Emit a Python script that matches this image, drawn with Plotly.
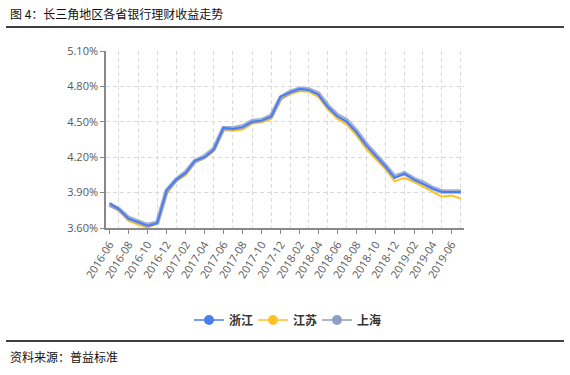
import plotly.graph_objects as go

months = ["2016-06", "2016-07", "2016-08", "2016-09", "2016-10", "2016-11", "2016-12",
          "2017-01", "2017-02", "2017-03", "2017-04", "2017-05", "2017-06", "2017-07",
          "2017-08", "2017-09", "2017-10", "2017-11", "2017-12",
          "2018-01", "2018-02", "2018-03", "2018-04", "2018-05", "2018-06", "2018-07",
          "2018-08", "2018-09", "2018-10", "2018-11", "2018-12",
          "2019-01", "2019-02", "2019-03", "2019-04", "2019-05", "2019-06", "2019-07"]

zhejiang = [3.81, 3.76, 3.68, 3.65, 3.62, 3.64, 3.92, 4.01, 4.07, 4.17, 4.20, 4.265, 4.45,
            4.44, 4.455, 4.50, 4.51, 4.545, 4.715, 4.75, 4.78, 4.77, 4.73, 4.625, 4.545,
            4.50, 4.41, 4.30, 4.215, 4.125, 4.025, 4.06, 4.01, 3.975, 3.935, 3.905, 3.905, 3.905]
jiangsu = [3.79, 3.75, 3.66, 3.63, 3.60, 3.64, 3.89, 4.00, 4.05, 4.155, 4.19, 4.25, 4.43,
           4.425, 4.435, 4.485, 4.495, 4.525, 4.69, 4.735, 4.76, 4.755, 4.71, 4.605, 4.525,
           4.475, 4.385, 4.27, 4.19, 4.10, 3.995, 4.025, 3.99, 3.95, 3.905, 3.865, 3.875, 3.85]
shanghai = [3.80, 3.76, 3.685, 3.655, 3.625, 3.645, 3.915, 4.01, 4.075, 4.165, 4.205, 4.27, 4.445,
            4.445, 4.46, 4.505, 4.515, 4.55, 4.705, 4.755, 4.78, 4.775, 4.74, 4.635, 4.555,
            4.51, 4.42, 4.31, 4.225, 4.13, 4.035, 4.065, 4.015, 3.985, 3.94, 3.91, 3.91, 3.91]

series_names = ["浙江", "江苏", "上海"]
title_text = "图 4：长三角地区各省银行理财收益走势"
source_text = "资料来源：普益标准"

dates = [m + "-01" for m in months]
major_ticks = dates[0::2]
minor_ticks = dates[1::2]

C_ZJ = "#4A7EF0"
C_JS = "#FFC125"
C_SH = "#8E9DC6"

W, H = 570, 375
L, R, T, B = 106, 106, 51, 147
PW, PH = W - L - R, H - T - B


def px_x(px):
    return (px - L) / PW


def px_y(py):
    return (H - B - py) / PH


CJK = "Noto Sans CJK SC"
TICKF = "Open Sans, Noto Sans CJK SC"

fig = go.Figure()
# drawing order: Jiangsu, Shanghai, Zhejiang
fig.add_trace(go.Scatter(x=dates, y=jiangsu, mode="lines", line=dict(color=C_JS, width=2),
                         showlegend=False, hoverinfo="skip"))
fig.add_trace(go.Scatter(x=dates, y=shanghai, mode="lines", line=dict(color=C_SH, width=4.5),
                         opacity=0.8, showlegend=False, hoverinfo="skip"))
fig.add_trace(go.Scatter(x=dates, y=zhejiang, mode="lines", line=dict(color=C_ZJ, width=2),
                         showlegend=False, hoverinfo="skip"))
# legend entries (line + marker)
for name, col in zip(series_names, [C_ZJ, C_JS, C_SH]):
    fig.add_trace(go.Scatter(x=[None], y=[None], mode="lines+markers", name=name,
                             line=dict(color=col, width=1.5),
                             marker=dict(color=col, size=10, symbol="circle")))

fig.update_layout(
    width=W, height=H, autosize=False,
    margin=dict(l=L, r=R, t=T, b=B, pad=0),
    paper_bgcolor="white", plot_bgcolor="white",
    font=dict(family=TICKF, size=11, color="#595959"),
    showlegend=True,
    legend=dict(orientation="h", x=0.5, xanchor="center", y=px_y(320), yanchor="middle",
                font=dict(family=CJK, size=12, color="#333333", weight="bold"),
                entrywidth=19, entrywidthmode="pixels",
                tracegroupgap=0, bgcolor="rgba(0,0,0,0)"),
    xaxis=dict(
        type="date",
        range=["2016-05-21", "2019-07-11"],
        tickmode="array", tickvals=major_ticks, tickformat="%Y-%m",
        tickangle=-58,
        ticks="outside", ticklen=4, tickcolor="#888888",
        showline=True, linecolor="#888888", linewidth=1.5,
        showgrid=False, zeroline=False, automargin=False,
        tickfont=dict(family=TICKF, size=11, color="#595959"),
        minor=dict(tickmode="array", tickvals=minor_ticks, showgrid=True,
                   gridcolor="#DADADA", griddash="4px,3px", gridwidth=1, ticks=""),
    ),
    yaxis=dict(
        range=[3.60, 5.10], tickmode="linear", tick0=3.60, dtick=0.30,
        tickformat=".2f", ticksuffix="%",
        ticks="outside", ticklen=4, tickcolor="#888888",
        showline=True, linecolor="#888888", linewidth=1.5,
        showgrid=True, gridcolor="#DADADA", griddash="4px,3px", gridwidth=1,
        zeroline=False, automargin=False,
        tickfont=dict(family=TICKF, size=11, color="#595959"),
    ),
    shapes=[
        dict(type="line", xref="paper", yref="paper", x0=px_x(6), x1=px_x(564),
             y0=px_y(27), y1=px_y(27), line=dict(color="black", width=1.5)),
        dict(type="line", xref="paper", yref="paper", x0=px_x(6), x1=px_x(564),
             y0=px_y(341), y1=px_y(341), line=dict(color="black", width=1.5)),
    ],
    annotations=[
        dict(text=title_text, xref="paper", yref="paper", x=px_x(8), y=px_y(13),
             xanchor="left", yanchor="middle", showarrow=False,
             font=dict(family=CJK, size=12, color="#111111")),
        dict(text=source_text, xref="paper", yref="paper", x=px_x(8), y=px_y(357),
             xanchor="left", yanchor="middle", showarrow=False,
             font=dict(family=CJK, size=12, color="#111111")),
    ],
)

fig.write_html("out.html", config={"displayModeBar": False},
               post_script="document.body.style.margin='0';document.body.style.overflow='hidden';")
